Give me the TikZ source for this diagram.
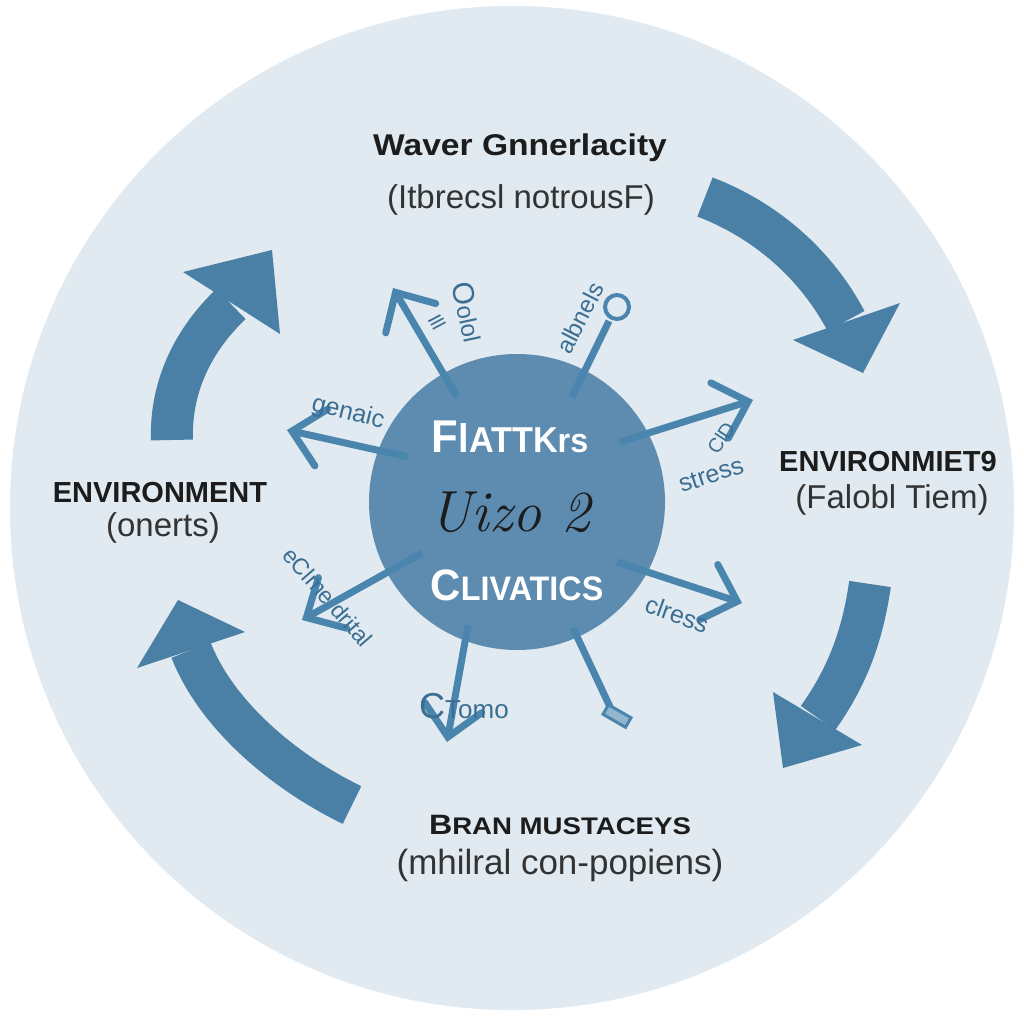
\documentclass[tikz,border=0pt]{standalone}
\usepackage{fontspec}
\usepackage{graphicx}
\newfontfamily\labfont{Liberation Sans}
\usetikzlibrary{arrows.meta}
\definecolor{ringbg}{HTML}{E0EAF0}
\definecolor{hubcol}{HTML}{5D8CB0}
\definecolor{arrcol}{HTML}{4A7FA6}
\definecolor{spokecol}{HTML}{4A85AE}
\definecolor{spoketxt}{HTML}{3B6E93}
\definecolor{inkcol}{HTML}{1C1C1C}
\newcommand{\fs}[1]{\fontsize{#1}{#1}\selectfont}
\begin{document}
\begin{tikzpicture}[x=1pt,y=-1pt,
  bigshaft/.style={draw=arrcol, line width=42pt},
  bighead/.style={fill=arrcol},
  spokeline/.style={draw=spokecol, line width=7pt},
  spokearrow/.style={spokeline, -{Straight Barb[length=30pt,width=58pt,line cap=round]}},
  labtitle/.style={font=\labfont\bfseries, text=inkcol, inner sep=0pt},
  labsub/.style={font=\labfont, text=inkcol!90, inner sep=0pt},
  spoketext/.style={font=\labfont, text=spoketxt, inner sep=0pt},
  hubtext/.style={font=\labfont\bfseries, text=white, inner sep=0pt}
]
\useasboundingbox (0,0) rectangle (1024,1024);
\fill[white] (0,0) rectangle (1024,1024);

% outer ring and hub
\node[circle, fill=ringbg, minimum size=1004pt, inner sep=0pt] (ring) at (512,508) {};
\node[circle, fill=hubcol, minimum size=296pt, inner sep=0pt] (hub) at (517,502) {};

% big cycle arrows
\draw[bigshaft] (705,197) .. controls (770,222) and (818,268) .. (846,321);
\fill[bighead] (793,340) -- (900,303) -- (863,373) -- cycle;
\draw[bigshaft] (870,584) .. controls (862,640) and (845,680) .. (818,718);
\fill[bighead] (773,692) -- (862,745) -- (783,768) -- cycle;
\draw[bigshaft] (352,805) .. controls (280,770) and (215,712) .. (191,650);
\fill[bighead] (137,668) -- (245,632) -- (178,600) -- cycle;
\draw[bigshaft] (172,440) .. controls (170,385) and (195,338) .. (231,304);
\fill[bighead] (183,272) -- (280,334) -- (272,250) -- cycle;

% spoke anchors
\coordinate (s1a) at (457,397); \coordinate (s1b) at (393,288);
\coordinate (s2a) at (408,457); \coordinate (s2b) at (287,430);
\coordinate (s3a) at (572,397); \coordinate (s3b) at (609,321);
\coordinate (s4a) at (620,442); \coordinate (s4b) at (753,400);
\coordinate (s5a) at (422,553); \coordinate (s5b) at (302,620);
\coordinate (s6a) at (468,625); \coordinate (s6b) at (447,742);
\coordinate (s7a) at (573,628); \coordinate (s7b) at (611,709);
\coordinate (s8a) at (617,562); \coordinate (s8b) at (742,603);

\draw[spokearrow] (s1a) -- (s1b);
\draw[spokearrow] (s2a) -- (s2b);
\draw[spokeline] (s3a) -- (s3b);
\node[circle, draw=spokecol, line width=4pt, minimum size=24pt, inner sep=0pt] (ring3) at (617,307) {};
\draw[spokearrow] (s4a) -- (s4b);
\draw[spokearrow] (s5a) -- (s5b);
\draw[spokearrow] (s6a) -- (s6b);
\draw[spokeline] (s7a) -- (s7b);
\node[draw=spokecol, fill=spokecol!60, line width=3pt, minimum width=26pt, minimum height=11pt, inner sep=0pt, rotate=-30] (box7) at (617,716) {};
\draw[spokearrow] (s8a) -- (s8b);

% hub texts
\node[hubtext] (hubtop) at (510,437) {\scalebox{0.95}[1]{\fs{46}F\fs{40}l\fs{36}ATTK\fs{34}rs}};
\node[font=\itshape, text=inkcol, inner sep=0pt] (hubmid) at (510,512) {\fs{58}Uizo 2};
\node[hubtext] (hubbot) at (517,585) {\scalebox{0.95}[1]{\fs{44}C\fs{34}LIVATICS}};

% spoke texts
\node[spoketext, rotate=-78] (t1) at (468,312) {\fs{30}O\fs{24}olol};
\node[spoketext, rotate=-62] (t1b) at (437,322) {\fs{20}Ill};
\node[spoketext, rotate=-14] (t2) at (348,413) {\fs{25}genaic};
\node[spoketext, rotate=63] (t3) at (580,318) {\fs{24}albnels};
\node[spoketext, rotate=57] (t4b) at (721,438) {\fs{20}ClD};
\node[spoketext, rotate=18] (t4) at (711,475) {\fs{25}stress};
\node[spoketext, rotate=-49] (t5) at (328,597) {\fs{23}eClme drital};
\node[spoketext] (t6) at (464,706) {\fs{36}C\fs{26}Tomo};
\node[spoketext, rotate=-20] (t8) at (677,614) {\fs{25}clress};

% labels
\node[labtitle] (topt) at (520,148) {\scalebox{1.12}[1]{\fs{30}Waver Gnnerlacity}};
\node[labsub] (tops) at (521,200) {\fs{33}(Itbrecsl notrousF)};
\node[labtitle] (leftt) at (160,493) {\fs{29}ENVIRONMENT};
\node[labsub] (lefts) at (163,528) {\fs{33}(onerts)};
\node[labtitle] (rightt) at (888,462) {\fs{29}ENVIRONMIET9};
\node[labsub] (rights) at (892,500) {\fs{33}(Falobl Tiem)};
\node[labtitle] (bott) at (560,825) {\scalebox{1.15}[1]{\fs{28}B\fs{24}RAN MUSTACEYS}};
\node[labsub] (bots) at (560,865) {\fs{35}(mhilral con-popiens)};
\end{tikzpicture}
\end{document}
